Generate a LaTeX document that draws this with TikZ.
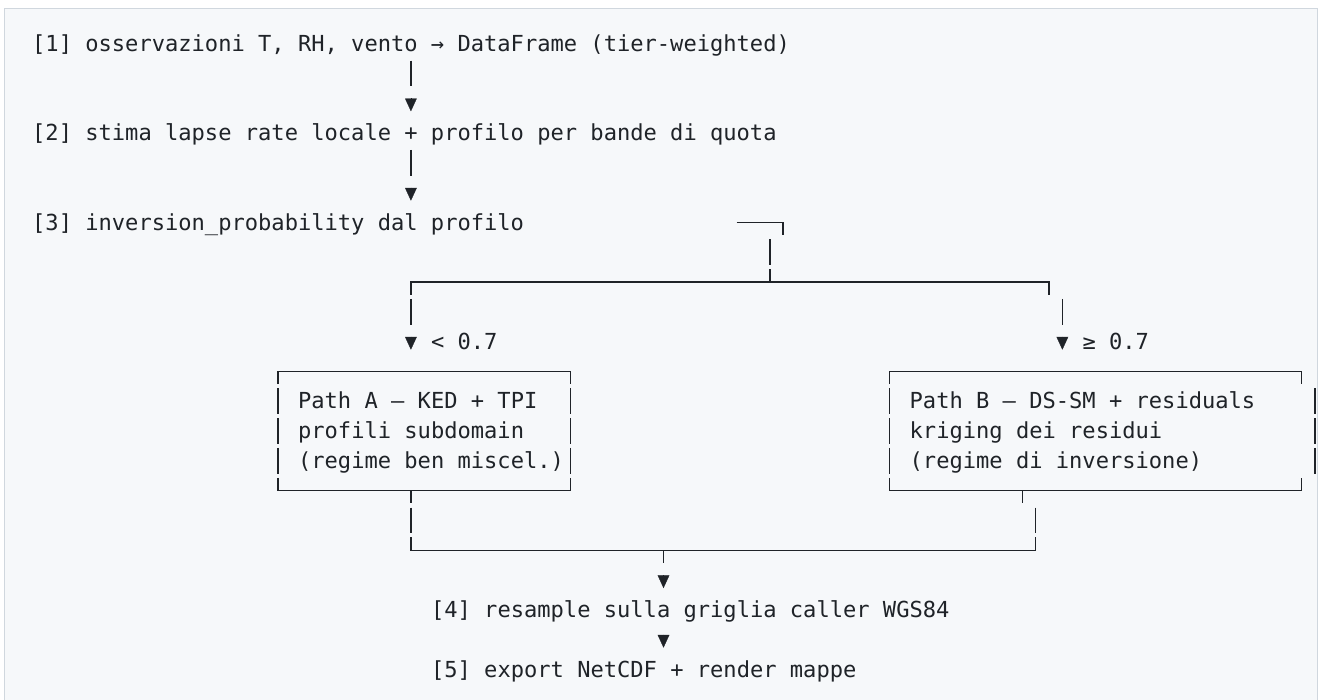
\documentclass[tikz,border=0pt]{standalone}
\usepackage{fontspec}
\setmonofont{DejaVu Sans Mono}
\usetikzlibrary{arrows.meta}

\definecolor{ink}{HTML}{1F2328}
\definecolor{codebg}{HTML}{F6F8FA}
\definecolor{codeframe}{HTML}{D0D7DE}

\tikzset{
  cell/.style={anchor=base west, inner sep=0pt, text=ink,
    font=\ttfamily\fontsize{22.08}{29.8}\selectfont},
  wire/.style={draw=ink, line width=1.4pt},
  bar/.style={wire, dash pattern=on 25.6pt off 4.2pt},
  drop/.style={draw=ink, line width=0.3pt,
    -{Triangle[width=11.7pt,length=12.8pt,fill=ink]}},
}

\begin{document}
\begin{tikzpicture}[x=13.295pt, y=-29.8pt]
    \useasboundingbox (-32pt,51.2pt) rectangle (1290pt,-647.8pt);
    \fill[codebg] (-27.5pt,43pt) rectangle (1285pt,-660pt);
    \draw[codeframe, line width=1pt] (-27.5pt,-660pt) -- (-27.5pt,43pt)
      -- (1285pt,43pt) -- (1285pt,-660pt);

    % steps, one text row each
    \node[cell] (obs) at (0,0) {[1] osservazioni T, RH, vento → DataFrame (tier-weighted)};
    \node[cell] (lapse) at (0,3) {[2] stima lapse rate locale + profilo per bande di quota};
    \node[cell] (invprob) at (0,6) {[3] inversion\_probability dal profilo};
    \node[cell] (lowlbl) at (30,10) {< 0.7};
    \node[cell] (highlbl) at (79,10) {≥ 0.7};
    \node[cell] (pathAa) at (20,12) {Path A — KED + TPI};
    \node[cell] (pathAb) at (20,13) {profili subdomain};
    \node[cell] (pathAc) at (20,14) {(regime ben miscel.)};
    \node[cell] (pathBa) at (66,12) {Path B — DS-SM + residuals};
    \node[cell] (pathBb) at (66,13) {kriging dei residui};
    \node[cell] (pathBc) at (66,14) {(regime di inversione)};
    \node[cell] (regrid) at (30,19) {[4] resample sulla griglia caller WGS84};
    \node[cell] (export) at (30,21) {[5] export NetCDF + render mappe};

    \coordinate (fork) at (55.5,7.745);
    \coordinate (join) at (47.5,16.745);

    % [1] -> [2] -> [3]
    \draw[wire] (28.5,0.315) -- (28.5,1.175);
    \draw[drop] (28.5,1.58) -- (28.5,2.017);
    \draw[wire] (28.5,3.315) -- (28.5,4.175);
    \draw[drop] (28.5,4.58) -- (28.5,5.017);

    % split on inversion_probability
    \draw[wire] (53,5.745) -- (56.5,5.745) -- (56.5,6.175);
    \draw[wire] (55.5,6.315) -- (55.5,7.175);
    \draw[wire] (55.5,7.315) -- (fork);
    \draw[wire] (28.5,8.175) -- (28.5,7.745) -- (76.5,7.745) -- (76.5,8.175);
    \draw[wire] (28.5,8.315) -- (28.5,9.175);
    \draw[wire] (77.5,8.315) -- (77.5,9.175);
    \draw[drop] (28.5,9.58) -- (28.5,10.017);
    \draw[drop] (77.5,9.58) -- (77.5,10.017);

    % box A
    \draw[wire] (18.5,11.175) -- (18.5,10.745) -- (40.5,10.745) -- (40.5,11.175);
    \draw[bar] (18.5,11.315) -- (18.5,14.175);
    \draw[bar] (40.5,11.315) -- (40.5,14.175);
    \draw[wire] (18.5,14.315) -- (18.5,14.745) -- (40.5,14.745) -- (40.5,14.315);
    \draw[wire] (28.5,14.745) -- (28.5,15.175);

    % box B
    \draw[wire] (64.5,11.175) -- (64.5,10.745) -- (95.5,10.745) -- (95.5,11.175);
    \draw[bar] (64.5,11.315) -- (64.5,14.175);
    \draw[bar] (96.5,11.315) -- (96.5,14.175);
    \draw[wire] (64.5,14.315) -- (64.5,14.745) -- (95.5,14.745) -- (95.5,14.315);
    \draw[wire] (74.5,14.745) -- (74.5,15.175);

    % merge -> [4] -> [5]
    \draw[wire] (28.5,15.315) -- (28.5,16.175);
    \draw[wire] (75.5,15.315) -- (75.5,16.175);
    \draw[wire] (28.5,16.315) -- (28.5,16.745) -- (75.5,16.745) -- (75.5,16.315);
    \draw[wire] (join) -- (47.5,17.175);
    \draw[drop] (47.5,17.58) -- (47.5,18.017);
    \draw[drop] (47.5,19.58) -- (47.5,20.017);
\end{tikzpicture}
\end{document}
